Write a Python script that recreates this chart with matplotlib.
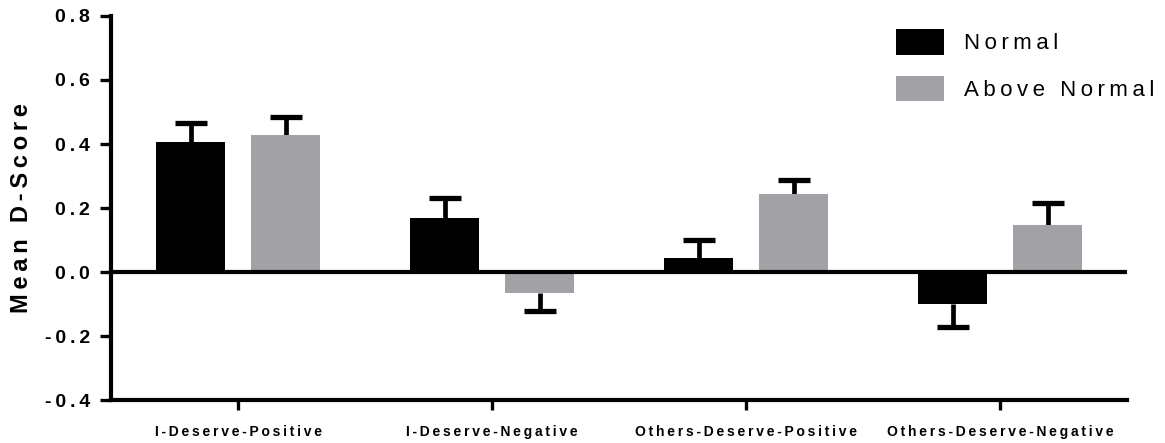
import numpy as np
import matplotlib
matplotlib.use('Agg')
import matplotlib.pyplot as plt

plt.rcParams['font.family'] = ['Liberation Sans', 'DejaVu Sans']
plt.rcParams['axes.unicode_minus'] = False

categories = ['I-Deserve-Positive', 'I-Deserve-Negative',
              'Others-Deserve-Positive', 'Others-Deserve-Negative']
normal = [0.405, 0.168, 0.045, -0.101]
normal_err = [0.061, 0.063, 0.055, 0.070]
above = [0.427, -0.067, 0.244, 0.147]
above_err = [0.058, 0.054, 0.044, 0.068]
yticks = [-0.4, -0.2, 0.0, 0.2, 0.4, 0.6, 0.8]

black = '#000000'
gray = '#a2a1a6'


def spaced(s):
    # prism-style letter spacing
    return '\u2009'.join(s)


fig = plt.figure(figsize=(11.65, 4.43), dpi=100)
ax = fig.add_axes([0.0953, 0.097, 0.8721, 0.8669])

x = np.arange(len(categories))
w = 0.272
off = 0.187
cap = 0.063

for xs, vals, errs, col, lab in [(x - off, normal, normal_err, black, 'Normal'),
                                 (x + off, above, above_err, gray, 'Above Normal')]:
    ax.bar(xs, vals, w, color=col, label=spaced(lab), zorder=2)
    ends = [v + e if v >= 0 else v - e for v, e in zip(vals, errs)]
    ax.vlines(xs, vals, ends, color='black', lw=3.4, zorder=1)
    ax.hlines(ends, xs - cap, xs + cap, color='black', lw=3.8, zorder=1)

ax.axhline(0, color='black', lw=3, zorder=3)

ax.set_xlim(-0.5, 3.5)
ax.set_ylim(-0.4, 0.8)
ax.set_yticks(yticks)
ax.set_yticklabels([spaced('{:.1f}'.format(t)) for t in yticks],
                   fontsize=14, fontweight='bold')
ax.set_xticks(x)
ax.set_xticklabels([spaced(c) for c in categories], fontsize=10, fontweight='bold')
ax.tick_params(axis='y', length=8, width=2.4, pad=7)
ax.tick_params(axis='x', length=7, width=2.4, pad=11)
ax.set_ylabel(spaced('Mean D-Score'), fontsize=17, fontweight='bold')
ax.yaxis.set_label_coords(-0.077, 0.5)

for s in ['top', 'right']:
    ax.spines[s].set_visible(False)
for s in ['left', 'bottom']:
    ax.spines[s].set_linewidth(3)

ax.legend(loc='upper left', bbox_to_anchor=(0.773, 0.966), frameon=False,
          fontsize=16, handlelength=2.12, handleheight=1.4, handletextpad=0.9,
          labelspacing=0.95, borderpad=0, borderaxespad=0)

fig.savefig('out.png', dpi=100)
